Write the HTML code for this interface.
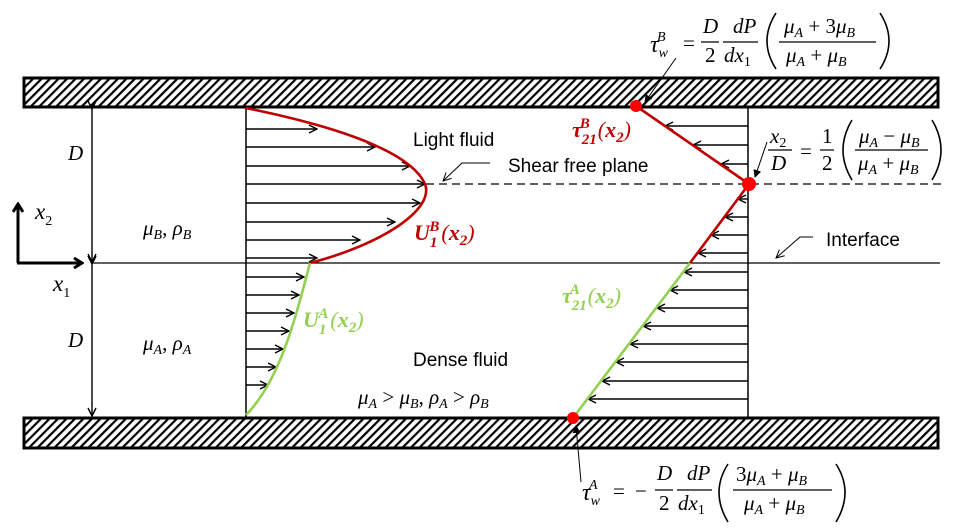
<!DOCTYPE html>
<html><head><meta charset="utf-8"><style>
html,body{margin:0;padding:0;background:#fff;width:960px;height:528px;overflow:hidden}
svg{display:block}
.m{font-family:"Liberation Serif",serif;font-style:italic;font-size:21px;fill:#000}
.r{font-family:"Liberation Serif",serif;font-size:21px;fill:#000}
.s{font-family:"Liberation Sans",sans-serif;font-size:19px;fill:#000}
.sub{font-size:14px}
.lab{font-family:"Liberation Serif",serif;font-style:italic;font-weight:bold;font-size:22px}
.par{fill:none;stroke:#000;stroke-width:1.6}
</style></head><body>
<svg width="960" height="528" viewBox="0 0 960 528" xmlns="http://www.w3.org/2000/svg">
<defs>
<pattern id="h" width="6" height="6" patternUnits="userSpaceOnUse" patternTransform="rotate(45)">
<rect width="6" height="6" fill="#fff"/><rect x="0" y="0" width="2.2" height="6" fill="#000"/>
</pattern>
<marker id="a" markerWidth="10" markerHeight="10" refX="9" refY="5" orient="auto" markerUnits="userSpaceOnUse">
<polyline points="1,1 9,5 1,9" fill="none" stroke="#000" stroke-width="1.4"/>
</marker>
<marker id="t" markerWidth="10" markerHeight="10" refX="9" refY="5" orient="auto" markerUnits="userSpaceOnUse">
<polyline points="1,1 9,5 1,9" fill="none" stroke="#000" stroke-width="1"/>
</marker>
<marker id="b" markerWidth="12" markerHeight="12" refX="10" refY="6" orient="auto" markerUnits="userSpaceOnUse">
<polyline points="2,1 10,6 2,11" fill="none" stroke="#000" stroke-width="3"/>
</marker>
<marker id="f" markerWidth="8" markerHeight="8" refX="7" refY="4" orient="auto" markerUnits="userSpaceOnUse">
<path d="M0,0 L8,4 L0,8 Z" fill="#000"/>
</marker>
</defs>

<rect x="24" y="78" width="914" height="29" fill="url(#h)" stroke="#000" stroke-width="3"/>
<rect x="24" y="418" width="914" height="30" fill="url(#h)" stroke="#000" stroke-width="3"/>

<line x1="246" y1="107" x2="246" y2="417" stroke="#000" stroke-width="1.5"/>
<line x1="748" y1="107" x2="748" y2="417" stroke="#000" stroke-width="1.5"/>

<line x1="92" y1="263" x2="940" y2="263" stroke="#000" stroke-width="1.3"/>
<line x1="426" y1="184" x2="946" y2="184" stroke="#000" stroke-width="1.3" stroke-dasharray="8,5"/>

<line x1="92" y1="109" x2="92" y2="262" stroke="#000" stroke-width="1.4" marker-start="url(#a)" marker-end="url(#a)" />
<line x1="92" y1="264" x2="92" y2="416" stroke="#000" stroke-width="1.4" marker-start="url(#a)" marker-end="url(#a)" />
<text class="m" x="68" y="160">D</text>
<text class="m" x="68" y="347">D</text>

<line x1="18" y1="263" x2="18" y2="204" stroke="#000" stroke-width="3" marker-end="url(#b)"/>
<line x1="17" y1="263" x2="82" y2="263" stroke="#000" stroke-width="3" marker-end="url(#b)"/>
<text class="m" x="35" y="219" style="font-size:23px">x<tspan class="sub" dy="6" font-style="normal">2</tspan></text>
<text class="m" x="53" y="291" style="font-size:23px">x<tspan class="sub" dy="6" font-style="normal">1</tspan></text>

<g stroke="#000" stroke-width="1.4" marker-end="url(#a)">
<line x1="246" y1="129" x2="317" y2="129"/>
<line x1="246" y1="147" x2="375" y2="147"/>
<line x1="246" y1="166" x2="410" y2="166"/>
<line x1="246" y1="184" x2="425" y2="184"/>
<line x1="246" y1="203" x2="420" y2="203"/>
<line x1="246" y1="222" x2="395" y2="222"/>
<line x1="246" y1="240" x2="360" y2="240"/>
<line x1="246" y1="258" x2="317" y2="258"/>
<line x1="246" y1="277" x2="304" y2="277"/>
<line x1="246" y1="295" x2="299" y2="295"/>
<line x1="246" y1="313" x2="294" y2="313"/>
<line x1="246" y1="331" x2="289" y2="331"/>
<line x1="246" y1="349" x2="283" y2="349"/>
<line x1="246" y1="367" x2="276" y2="367"/>
<line x1="246" y1="385" x2="268" y2="385"/>
</g>
<path d="M246,108 C330,125 410,150 425,184 C435,210 380,245 310,263" fill="none" stroke="#c00000" stroke-width="2.6"/>
<path d="M310,263 C295,320 280,380 246,415" fill="none" stroke="#92d050" stroke-width="2.6"/>

<g stroke="#000" stroke-width="1.4" marker-end="url(#a)">
<line x1="748" y1="126" x2="665" y2="126"/>
<line x1="748" y1="145" x2="693" y2="145"/>
<line x1="748" y1="164" x2="721" y2="164"/>
<line x1="748" y1="199" x2="738" y2="199"/>
<line x1="748" y1="217" x2="725" y2="217"/>
<line x1="748" y1="235" x2="711" y2="235"/>
<line x1="748" y1="253" x2="698" y2="253"/>
<line x1="748" y1="272" x2="684" y2="272"/>
<line x1="748" y1="290" x2="670" y2="290"/>
<line x1="748" y1="308" x2="657" y2="308"/>
<line x1="748" y1="326" x2="643" y2="326"/>
<line x1="748" y1="344" x2="630" y2="344"/>
<line x1="748" y1="362" x2="616" y2="362"/>
<line x1="748" y1="381" x2="602" y2="381"/>
<line x1="748" y1="399" x2="588" y2="399"/>
</g>
<line x1="636" y1="106" x2="749" y2="184" stroke="#c00000" stroke-width="2.6"/>
<line x1="749" y1="184" x2="690" y2="263" stroke="#c00000" stroke-width="2.6"/>
<line x1="690" y1="263" x2="573" y2="418" stroke="#92d050" stroke-width="2.6"/>
<circle cx="636" cy="106" r="6" fill="#ff0000"/>
<circle cx="749" cy="184" r="7" fill="#ff0000"/>
<circle cx="573" cy="418" r="6" fill="#ff0000"/>

<line x1="676" y1="58" x2="645" y2="102" stroke="#000" stroke-width="1" marker-end="url(#f)"/>
<line x1="767" y1="142" x2="755" y2="177" stroke="#000" stroke-width="1" marker-end="url(#f)"/>
<line x1="581" y1="482" x2="576" y2="426" stroke="#000" stroke-width="1" marker-end="url(#f)"/>
<polyline points="813,237 800,237 776,258" fill="none" stroke="#000" stroke-width="1" marker-end="url(#t)"/>
<polyline points="490,163 462,163 443,181" fill="none" stroke="#000" stroke-width="1" marker-end="url(#t)"/>

<text class="s" x="413" y="146">Light fluid</text>
<text class="s" x="508" y="172">Shear free plane</text>
<text class="s" x="826" y="246">Interface</text>
<text class="s" x="413" y="366">Dense fluid</text>
<text class="m" x="143" y="235">μ<tspan class="sub" dy="4">B</tspan><tspan dy="-4" font-style="normal">, </tspan>ρ<tspan class="sub" dy="4">B</tspan></text>
<text class="m" x="143" y="350">μ<tspan class="sub" dy="4">A</tspan><tspan dy="-4" font-style="normal">, </tspan>ρ<tspan class="sub" dy="4">A</tspan></text>
<text class="m" x="358" y="404">μ<tspan class="sub" dy="4">A</tspan><tspan dy="-4" font-style="normal"> &gt; </tspan>μ<tspan class="sub" dy="4">B</tspan><tspan dy="-4" font-style="normal">, </tspan>ρ<tspan class="sub" dy="4">A</tspan><tspan dy="-4" font-style="normal"> &gt; </tspan>ρ<tspan class="sub" dy="4">B</tspan></text>

<text class="lab" x="414" y="240" fill="#c00000">U<tspan font-size="15" dy="7">1</tspan><tspan font-size="15" dx="-8" dy="-16">B</tspan><tspan dx="2" dy="9" font-weight="normal">(</tspan>x<tspan font-size="15" dy="5">2</tspan><tspan dy="-5" font-weight="normal">)</tspan></text>
<text class="lab" x="572" y="137" fill="#c00000">τ<tspan font-size="15" dy="7">21</tspan><tspan font-size="15" dx="-17" dy="-16">B</tspan><tspan dx="8" dy="9" font-weight="normal">(</tspan>x<tspan font-size="15" dy="5">2</tspan><tspan dy="-5" font-weight="normal">)</tspan></text>
<text class="lab" x="562" y="303" fill="#92d050">τ<tspan font-size="15" dy="7">21</tspan><tspan font-size="15" dx="-17" dy="-16">A</tspan><tspan dx="8" dy="9" font-weight="normal">(</tspan>x<tspan font-size="15" dy="5">2</tspan><tspan dy="-5" font-weight="normal">)</tspan></text>
<text class="lab" x="303" y="327" fill="#92d050">U<tspan font-size="15" dy="7">1</tspan><tspan font-size="15" dx="-8" dy="-16">A</tspan><tspan dx="2" dy="9" font-weight="normal">(</tspan>x<tspan font-size="15" dy="5">2</tspan><tspan dy="-5" font-weight="normal">)</tspan></text>

<!-- top formula -->
<g>
<text class="m" x="650" y="52" style="font-size:24px">τ<tspan class="sub" dy="5">w</tspan><tspan class="sub" dx="-11" dy="-16">B</tspan></text>
<text class="r" x="683" y="50">=</text>
<text class="m" x="703" y="33">D</text><text class="r" x="705" y="62">2</text>
<line x1="701" y1="42" x2="719" y2="42" stroke="#000" stroke-width="1.2"/>
<text class="m" x="733" y="33">dP</text><text class="m" x="724" y="62">dx<tspan class="sub" dy="4" font-style="normal">1</tspan></text>
<line x1="723" y1="42" x2="758" y2="42" stroke="#000" stroke-width="1.2"/>
<path class="par" d="M776,13 Q758,41 776,69"/>
<text class="m" x="784" y="33">μ<tspan class="sub" dy="4">A</tspan><tspan dy="-4" font-style="normal"> + 3</tspan>μ<tspan class="sub" dy="4">B</tspan></text>
<line x1="779" y1="42" x2="876" y2="42" stroke="#000" stroke-width="1.2"/>
<text class="m" x="786" y="62">μ<tspan class="sub" dy="4">A</tspan><tspan dy="-4" font-style="normal"> + </tspan>μ<tspan class="sub" dy="4">B</tspan></text>
<path class="par" d="M880,13 Q898,41 880,69"/>
</g>

<!-- middle formula -->
<g>
<text class="m" x="770" y="143">x<tspan class="sub" dy="4" font-style="normal">2</tspan></text>
<line x1="768" y1="150" x2="792" y2="150" stroke="#000" stroke-width="1.2"/>
<text class="m" x="771" y="170">D</text>
<text class="r" x="800" y="158">=</text>
<text class="r" x="822" y="143">1</text><text class="r" x="822" y="170">2</text>
<line x1="820" y1="150" x2="834" y2="150" stroke="#000" stroke-width="1.2"/>
<path class="par" d="M852,120 Q834,150 852,180"/>
<text class="m" x="859" y="143">μ<tspan class="sub" dy="4">A</tspan><tspan dy="-4" font-style="normal"> − </tspan>μ<tspan class="sub" dy="4">B</tspan></text>
<line x1="855" y1="150" x2="928" y2="150" stroke="#000" stroke-width="1.2"/>
<text class="m" x="858" y="170">μ<tspan class="sub" dy="4">A</tspan><tspan dy="-4" font-style="normal"> + </tspan>μ<tspan class="sub" dy="4">B</tspan></text>
<path class="par" d="M932,120 Q950,150 932,180"/>
</g>

<!-- bottom formula -->
<g>
<text class="m" x="582" y="500" style="font-size:24px">τ<tspan class="sub" dy="5">w</tspan><tspan class="sub" dx="-11" dy="-16">A</tspan></text>
<text class="r" x="613" y="498">=</text>
<text class="r" x="635" y="498">−</text>
<text class="m" x="657" y="480">D</text><text class="r" x="659" y="510">2</text>
<line x1="655" y1="490" x2="673" y2="490" stroke="#000" stroke-width="1.2"/>
<text class="m" x="687" y="480">dP</text><text class="m" x="678" y="510">dx<tspan class="sub" dy="4" font-style="normal">1</tspan></text>
<line x1="677" y1="490" x2="712" y2="490" stroke="#000" stroke-width="1.2"/>
<path class="par" d="M728,464 Q710,492 728,522"/>
<text class="m" x="736" y="481"><tspan font-style="normal">3</tspan>μ<tspan class="sub" dy="4">A</tspan><tspan dy="-4" font-style="normal"> + </tspan>μ<tspan class="sub" dy="4">B</tspan></text>
<line x1="733" y1="490" x2="832" y2="490" stroke="#000" stroke-width="1.2"/>
<text class="m" x="744" y="510">μ<tspan class="sub" dy="4">A</tspan><tspan dy="-4" font-style="normal"> + </tspan>μ<tspan class="sub" dy="4">B</tspan></text>
<path class="par" d="M836,464 Q854,492 836,522"/>
</g>
</svg>
</body></html>
